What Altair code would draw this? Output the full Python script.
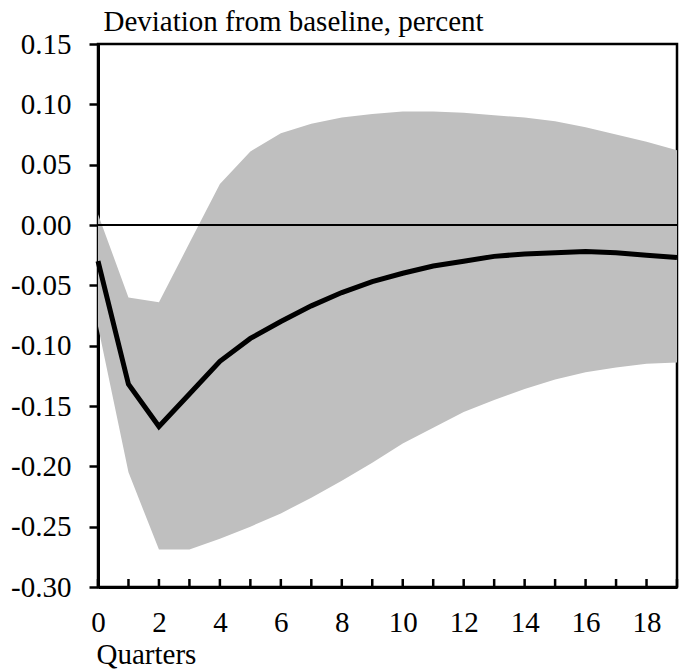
import altair as alt
import pandas as pd

# Impulse response over 20 quarters with its confidence band
quarters = list(range(20))
response = [-0.030, -0.132, -0.167, -0.140, -0.113, -0.094, -0.080, -0.067,
            -0.056, -0.047, -0.040, -0.034, -0.030, -0.026, -0.024, -0.023,
            -0.022, -0.023, -0.025, -0.027]
upper = [0.009, -0.060, -0.064, -0.015, 0.034, 0.061, 0.076, 0.084,
         0.089, 0.092, 0.094, 0.094, 0.093, 0.091, 0.089, 0.086,
         0.081, 0.075, 0.069, 0.062]
lower = [-0.084, -0.205, -0.269, -0.269, -0.260, -0.250, -0.239, -0.226,
         -0.212, -0.197, -0.181, -0.168, -0.155, -0.145, -0.136, -0.128,
         -0.122, -0.118, -0.115, -0.114]

y_ticks = [-0.30, -0.25, -0.20, -0.15, -0.10, -0.05, 0.00, 0.05, 0.10, 0.15]
x_labels = [0, 2, 4, 6, 8, 10, 12, 14, 16, 18]

df = pd.DataFrame({"quarter": quarters, "response": response,
                   "upper": upper, "lower": lower})
zero_df = pd.DataFrame({"zero": [0.0]})

W, H = 579, 543
FONT = "Liberation Serif"

x_scale = alt.Scale(domain=[0, 19], nice=False, zero=False)
y_scale = alt.Scale(domain=[-0.30, 0.15], nice=False, zero=False)

x_axis = alt.Axis(
    values=x_labels, ticks=False, tickSize=0, grid=False,
    labelFont=FONT, labelFontSize=29, labelPadding=21, labelFlush=False,
    labelColor="black",
    domainColor="black", domainWidth=3,
    title="Quarters", titleX=-2, titleY=76, titleAlign="left",
    titleBaseline="alphabetic", titleFont=FONT, titleFontSize=29,
    titleFontWeight="normal", titleColor="black",
)
y_axis = alt.Axis(
    values=y_ticks, grid=False,
    labelExpr="replace(format(datum.value, '.2f'), '\u2212', '-')",
    tickSize=9, tickWidth=2.5, tickColor="black",
    labelFont=FONT, labelPadding=18, labelFontSize=29, labelColor="black",
    domainColor="black", domainWidth=3,
    title="Deviation from baseline, percent", titleAngle=0,
    titleX=5, titleY=-14, titleAlign="left", titleBaseline="alphabetic",
    titleFont=FONT, titleFontSize=29, titleFontWeight="normal",
    titleColor="black",
)

base = alt.Chart(df)

band = base.mark_area(color="#bfbfbf", opacity=1).encode(
    x=alt.X("quarter:Q", scale=x_scale, axis=x_axis),
    y=alt.Y("lower:Q", scale=y_scale, axis=y_axis),
    y2="upper:Q",
)

zero_line = alt.Chart(zero_df).mark_rule(color="black", strokeWidth=2).encode(
    y=alt.Y("zero:Q", scale=y_scale),
)

x_ticks = base.mark_rule(color="black", strokeWidth=2.5).encode(
    x=alt.X("quarter:Q", scale=x_scale),
    y=alt.value(H - 8),
    y2=alt.value(H),
)

line = base.mark_line(color="black", strokeWidth=5).encode(
    x=alt.X("quarter:Q", scale=x_scale),
    y=alt.Y("response:Q", scale=y_scale),
)

chart = (
    alt.layer(band, zero_line, x_ticks, line)
    .properties(
        width=W, height=H,
        autosize=alt.AutoSizeParams(type="none"),
        padding={"left": 98, "top": 44, "right": 6, "bottom": 82},
        background="white",
    )
    .configure_view(stroke="black", strokeWidth=2.5)
)

chart.save("out.html", embed_options={"renderer": "svg", "actions": False})
